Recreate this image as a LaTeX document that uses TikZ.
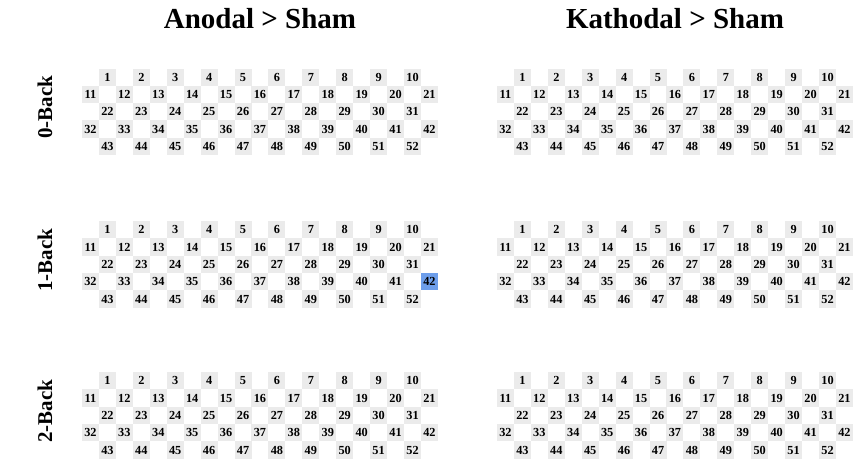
\documentclass[tikz,border=0pt]{standalone}
\usepackage{fontspec}
\setmainfont{Liberation Serif}
\definecolor{cellgray}{HTML}{EBEBEB}
\definecolor{hiblue}{HTML}{6D9EEB}
\tikzset{
  cell/.style={fill=cellgray, minimum width=17pt, minimum height=17.3pt, inner sep=0pt,
    text height=8.3pt, text depth=0pt,
    font=\bfseries\fontsize{12.3}{13}\selectfont},
  title/.style={font=\bfseries\fontsize{29}{30}\selectfont, anchor=base},
  rowlab/.style={font=\bfseries\fontsize{21}{23}\selectfont, rotate=90,
    text height=14pt, text depth=0pt}
}
\begin{document}
\begin{tikzpicture}[x=1pt,y=-1pt]
\useasboundingbox (0,0) rectangle (853,459);
\node[title] (tA) at (260,28) {Anodal > Sham};
\node[title] (tK) at (675,28) {Kathodal > Sham};
\node[rowlab] (l0) at (45,107) {0-Back};
\node[rowlab] (l1) at (45,260) {1-Back};
\node[rowlab] (l2) at (45,411) {2-Back};
\foreach \gx/\gn in {82/A, 497/K} {
  \foreach \gy/\gr in {68.5/0, 221/1, 372/2} {
    \foreach \r/\start/\odd in {0/1/1, 1/11/0, 2/22/1, 3/32/0, 4/43/1} {
      \pgfmathtruncatemacro\n{\odd==1 ? 9 : 10}
      \foreach \i in {0,...,\n} {
        \pgfmathsetmacro\cx{\gx + (2*\i+\odd+0.5)*16.95}
        \pgfmathsetmacro\cy{\gy + (\r+0.5)*17.3}
        \pgfmathtruncatemacro\num{\start+\i}
        \def\cf{cellgray}
        \ifnum\num=42 \ifnum\gr=1 \if\gn A\def\cf{hiblue}\fi\fi\fi
        \node[cell, fill=\cf] (\gn\gr-\num) at (\cx,\cy) {\num};
      }
    }
  }
}
\end{tikzpicture}
\end{document}
